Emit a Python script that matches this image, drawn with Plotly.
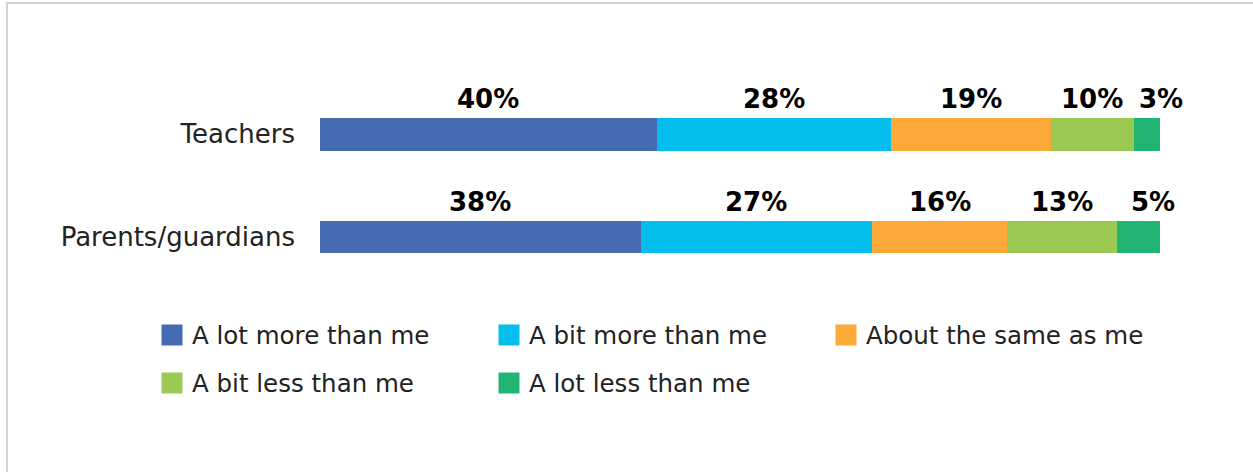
import plotly.graph_objects as go

categories = ["Teachers", "Parents/guardians"]
series_names = ["A lot more than me", "A bit more than me", "About the same as me",
                "A bit less than me", "A lot less than me"]
colors = ["#456BB3", "#03BEEC", "#FBAA38", "#9CC952", "#22B473"]
# unrounded shares; labels are the rounded figures shown
teachers = [40.1, 27.9, 19.0, 9.9, 3.1]
parents = [38.2, 27.5, 16.1, 13.1, 5.1]
teachers_labels = ["40%", "28%", "19%", "10%", "3%"]
parents_labels = ["38%", "27%", "16%", "13%", "5%"]

W, H = 1253, 472
ML, MR, MT, MB = 320, 93, 83, 183
PW, PH = W - ML - MR, H - MT - MB

def px_x(px):
    return (px - ML) / PW

def px_y(py):
    return (H - MB - py) / PH

fig = go.Figure()
values = [teachers, parents]
labels = [teachers_labels, parents_labels]
for i, name in enumerate(series_names):
    fig.add_trace(go.Bar(
        y=categories, x=[teachers[i], parents[i]], orientation="h",
        name=name, marker=dict(color=colors[i], line=dict(width=0)),
        showlegend=False, hoverinfo="x+name",
    ))
    fig.add_trace(go.Scatter(
        x=[None], y=[None], mode="markers", name=name,
        marker=dict(symbol="square", size=16, color=colors[i], line=dict(width=5, color=colors[i])),
        legend="legend" if i < 3 else "legend2",
    ))

annotations = []
for ci, cat in enumerate(categories):
    cum = 0
    n = len(values[ci])
    for k, (v, lab) in enumerate(zip(values[ci], labels[ci])):
        annotations.append(dict(
            x=cum + v / 2, y=cat, xref="x", yref="y", text=lab, showarrow=False,
            yshift=35, xshift=(14 if k == n - 1 else 0),
            font=dict(family="DejaVu Sans", size=26, color="#000000", weight="bold"),
        ))
        cum += v

legend_font = dict(family="DejaVu Sans", size=24.5, color="#222222")
fig.update_layout(
    width=W, height=H,
    margin=dict(l=ML, r=MR, t=MT, b=MB, pad=0),
    paper_bgcolor="white", plot_bgcolor="white",
    barmode="stack", bargap=0.68,
    xaxis=dict(range=[0, 100], visible=False, fixedrange=True),
    yaxis=dict(autorange="reversed", showgrid=False, zeroline=False, showline=False,
               ticks="", ticklabelstandoff=24,
               tickfont=dict(family="DejaVu Sans", size=26, color="#222222")),
    font=dict(family="DejaVu Sans", color="#222222"),
    annotations=annotations,
    legend=dict(orientation="h", x=px_x(152), y=px_y(335), xanchor="left", yanchor="middle",
                entrywidth=292, entrywidthmode="pixels", bgcolor="rgba(0,0,0,0)",
                font=legend_font, traceorder="normal"),
    legend2=dict(orientation="h", x=px_x(152), y=px_y(383), xanchor="left", yanchor="middle",
                 entrywidth=292, entrywidthmode="pixels", bgcolor="rgba(0,0,0,0)",
                 font=legend_font, traceorder="normal"),
    shapes=[dict(type="rect", xref="paper", yref="paper",
                 x0=px_x(7), x1=px_x(W + 20), y0=px_y(3), y1=px_y(H + 20),
                 line=dict(color="#D4D4D4", width=2), fillcolor="rgba(0,0,0,0)", layer="below")],
)

fig.write_html("out.html", config={"displayModeBar": False})
